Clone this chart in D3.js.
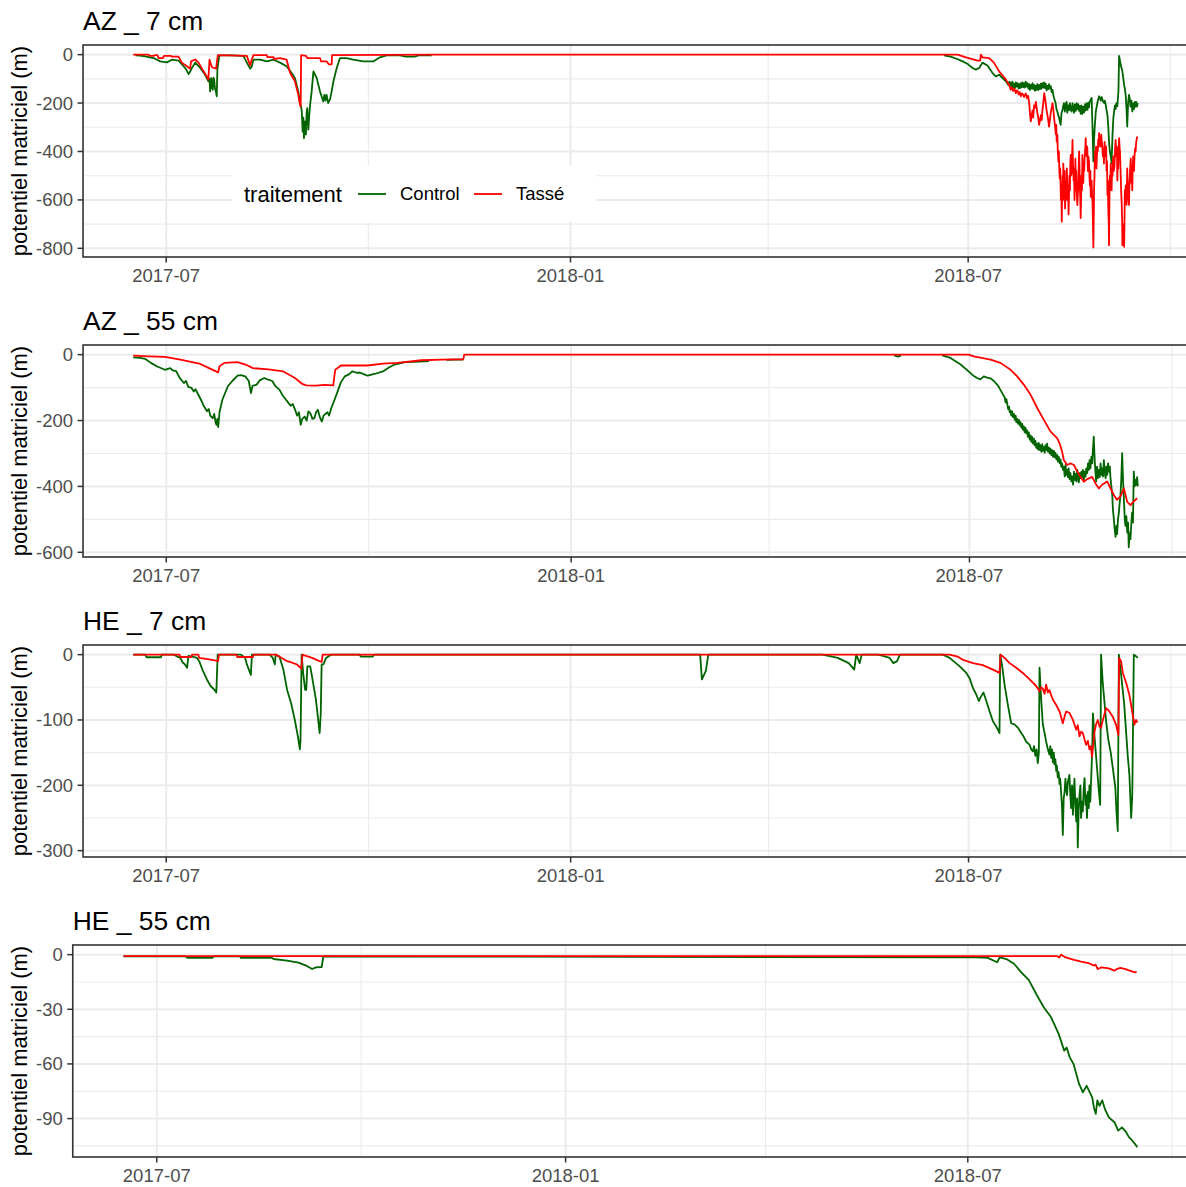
<!DOCTYPE html>
<html>
<head>
<meta charset="utf-8">
<script src="https://cdn.jsdelivr.net/npm/d3@7"></script>
<style>
  body { margin: 0; background: #fff; }
  svg { display: block; font-family: "Liberation Sans", Arial, sans-serif; }
</style>
</head>
<body>
<svg width="1186" height="1187"></svg>
<script>
const svg = d3.select('svg');

// days are counted from the first reading, 2017-06-16
const start = Date.UTC(2017, 5, 16);
const toDate = day => new Date(start + day * 864e5);

const treatments = ['Control', 'Tassé'];
const lineColors = ['#006400', '#ff0000'];
const panelTitles = ['AZ _ 7 cm', 'AZ _ 55 cm', 'HE _ 7 cm', 'HE _ 55 cm'];
const xTickDates = ['2017-07-01', '2018-01-01', '2018-07-01'];
const xTickLabels = ['2017-07', '2018-01', '2018-07'];
const xMinorDates = ['2017-10-01', '2018-04-01', '2018-10-01'];
const yTicksAzShallow = [0, -200, -400, -600, -800];
const yTicksAzDeep = [0, -200, -400, -600];
const yTicksHeShallow = [0, -100, -200, -300];
const yTicksHeDeep = [0, -30, -60, -90];

// [day, potentiel (m)], null = no reading
const azShallowControl = [
  [1,-3],[3.2,-4],[6,-8],[9.2,-14],[12.3,-28],[15.3,-32],[17.6,-21],[20.6,-25],[22.9,-48],[24,-60],[25.2,-80],[25.9,-70],
  [26.7,-55],[28.2,-33],[30.5,-55],[32.7,-83],[34.2,-110],[34.7,-100],[35,-152],[35.3,-120],[35.5,-97],[35.8,-135],[36.2,-145],
  [36.5,-95],[36.8,-100],[37.2,-140],[37.6,-152],[38,-172],[38.3,-60],[39.1,-7],[39.5,-3],[45,-3],[50.1,-5],[51.7,-33],
  [53.2,-58],[53.9,-50],[54.7,-21],[57.7,-21],[60.8,-28],[63.8,-21],[66.8,-33],[69.8,-48],[72.1,-76],[73.6,-97],[75.1,-152],
  [75.9,-200],[76.4,-215],[76.7,-235],[77.1,-318],[77.4,-260],[77.7,-345],[78,-300],[78.2,-276],[78.6,-330],[78.9,-240],
  [79.2,-221],[79.7,-310],[80.1,-250],[80.5,-207],[81.2,-152],[82,-69],[83.5,-97],[85,-152],[86,-180],[86.5,-193],[87,-165],
  [87.5,-190],[88,-166],[88.7,-200],[89.5,-186],[90.3,-152],[91.1,-110],[92.6,-55],[94.1,-14],[97.1,-14],[100.1,-21],
  [104.7,-28],[109.2,-28],[112.3,-11],[115.3,-3],[121.4,-3],[124,-8],[128,-8],[130,-3],[135.8,-3],[136,null],
  [369,-3],[372,-8],[375,-18],[377.5,-28],[380,-40],[382,-55],[383.5,-62],[385,-55],[386.5,-33],[388.8,-45],[391.1,-76],
  [392.6,-90],[394.1,-83],[395.6,-97],[397.2,-110],[398.3,-125],[398.7,-112],[399.1,-130],[399.5,-115],[399.9,-135],
  [400.2,-112],[400.6,-136],[400.9,-120],[401.3,-138],[401.7,-115],[402.1,-132],[402.5,-118],[402.9,-140],[403.2,-122],
  [403.6,-138],[403.9,-118],[404.3,-135],[404.7,-115],[405.1,-134],[405.4,-118],[405.8,-136],[406.2,-112],[406.6,-132],
  [407,-118],[407.4,-140],[407.8,-122],[408.1,-146],[408.5,-125],[408.9,-140],[409.3,-118],[409.6,-142],[410,-125],
  [410.4,-150],[410.8,-128],[411.1,-145],[411.5,-122],[411.9,-146],[412.3,-125],[412.7,-142],[413.1,-120],[413.4,-140],
  [413.8,-118],[414.2,-136],[414.6,-115],[415,-138],[415.3,-120],[415.7,-148],[416.1,-128],[416.5,-142],[416.8,-122],
  [417.2,-140],[417.6,-130],[418,-155],[418.4,-145],[418.7,-165],[419.1,-179],[419.8,-200],[420.2,-225],[420.6,-235],
  [421,-250],[421.4,-260],[421.7,-275],[422.1,-290],[422.5,-240],[422.9,-230],[423.2,-215],[423.6,-200],[424,-235],
  [424.4,-205],[424.8,-195],[425.1,-240],[425.5,-210],[425.9,-230],[426.3,-200],[426.7,-225],[427.1,-235],[427.5,-200],
  [427.9,-222],[428.2,-240],[428.6,-205],[429,-232],[429.4,-200],[429.7,-225],[430.1,-205],[430.5,-232],[430.9,-212],
  [431.2,-245],[431.6,-210],[432,-245],[432.4,-215],[432.8,-238],[433.2,-205],[433.5,-230],[433.9,-200],[434.3,-228],
  [434.7,-198],[435,-218],[435.3,-195],[435.6,-190],[436.2,-179],[436.6,-300],[437,-441],[437.3,-350],[437.6,-300],
  [438.1,-235],[438.8,-200],[439.2,-185],[439.6,-172],[440,-180],[440.4,-190],[440.8,-175],[441.1,-186],[441.5,-195],
  [441.9,-200],[442.2,-190],[442.6,-207],[443,-230],[443.4,-250],[443.8,-300],[444.1,-359],[444.5,-400],[444.9,-420],
  [445.3,-448],[445.7,-330],[446.1,-260],[446.4,-235],[446.8,-210],[447.1,-225],[447.5,-200],[447.9,-214],[448.4,-150],
  [448.7,-5],[449,-20],[449.4,-40],[449.8,-55],[450.2,-69],[450.6,-95],[450.9,-120],[451.3,-140],[451.7,-166],
  [452.1,-230],[452.4,-297],[452.8,-200],[453.2,-166],[453.6,-185],[453.9,-215],[454.3,-190],[454.7,-235],[455.1,-200],
  [455.5,-225],[455.9,-195],[456.2,-215],[456.5,-195],[456.8,-215],[457.2,-200]
];
const azShallowTasse = [
  [0,0],[7,0],[7.5,-5],[9.5,-5],[10,-2],[11,-2],[11.5,-14],[13.5,-14],[14,-5],[17,-5],[17.5,-8],[20.6,-8],[22.1,-33],
  [24.4,-48],[25.9,-58],[26.3,-28],[28.2,-20],[29.7,-33],[32,-69],[33.5,-90],[34.2,-103],[34.7,-21],[35.8,-52],[37.7,-58],
  [38.5,-2],[51.7,-5],[53.2,-45],[53.9,-20],[54.7,-2],[60.8,-2],[61,-10],[63.8,-10],[64,-18],[66.8,-14],[69.8,-21],
  [71.4,-76],[73.6,-110],[75.1,-166],[75.9,-207],[76.2,-215],[76.4,-2],[78.6,-5],[79.2,-14],[85,-14],[85.5,-28],[88,-28],
  [89,-40],[90.3,-40],[90.5,-2],[136,0],[375.2,0],[379,-11],[384.3,-25],[385.5,-25],[385.8,0],[386.5,-11],[389.6,-14],
  [391.8,-34],[394.1,-69],[397.2,-103],[397.8,-115],[398.5,-120],[399,-135],[399.4,-145],[399.8,-135],[400.5,-150],
  [401,-140],[401.7,-159],[402.1,-148],[402.5,-150],[403,-165],[403.5,-155],[404,-172],[404.5,-160],[405,-165],
  [405.5,-175],[406.2,-160],[406.8,-180],[407.3,-170],[407.8,-200],[408.1,-240],[408.5,-276],[408.9,-250],[409.3,-230],
  [409.6,-260],[410,-210],[410.4,-220],[410.8,-195],[411.1,-215],[411.5,-240],[411.9,-260],[412.3,-290],[412.7,-270],
  [413.1,-250],[413.5,-270],[413.8,-230],[414.2,-200],[414.6,-159],[415,-180],[415.3,-200],[415.7,-230],[416.1,-250],
  [416.5,-275],[416.8,-297],[417.2,-270],[417.6,-240],[418,-220],[418.4,-200],[418.8,-230],[419.1,-260],[419.6,-300],
  [419.9,-330],[420.1,-290],[420.3,-359],[420.6,-330],[420.8,-400],[421.1,-442],[421.3,-400],[421.5,-480],[421.7,-511],
  [421.9,-470],[422.2,-600],[422.4,-540],[422.6,-690],[422.8,-560],[423,-500],[423.2,-600],[423.3,-450],[423.5,-520],
  [423.7,-560],[423.9,-480],[424.1,-635],[424.3,-560],[424.5,-520],[424.7,-600],[424.9,-470],[425.1,-530],[425.3,-600],
  [425.5,-540],[425.7,-660],[425.9,-580],[426.1,-500],[426.3,-560],[426.5,-450],[426.7,-414],[426.9,-500],[427.1,-480],
  [427.3,-420],[427.5,-352],[427.7,-450],[428,-520],[428.2,-470],[428.4,-600],[428.6,-540],[428.8,-430],[429,-520],
  [429.2,-480],[429.4,-560],[429.7,-621],[429.9,-580],[430.1,-550],[430.3,-470],[430.5,-400],[430.7,-480],[430.9,-560],
  [431.1,-620],[431.2,-675],[431.4,-600],[431.6,-500],[431.8,-560],[432,-414],[432.2,-480],[432.4,-530],[432.6,-460],
  [432.8,-480],[433,-430],[433.2,-400],[433.4,-370],[433.5,-345],[433.7,-400],[434,-420],[434.2,-380],[434.5,-480],
  [434.7,-420],[435,-440],[435.2,-500],[435.4,-540],[435.6,-480],[435.8,-587],[436,-540],[436.2,-520],[436.4,-580],
  [436.6,-610],[436.8,-700],[437,-796],[437.2,-650],[437.3,-560],[437.5,-500],[437.6,-450],[437.8,-400],[438,-420],
  [438.2,-380],[438.4,-470],[438.6,-420],[438.8,-380],[439,-400],[439.2,-350],[439.4,-380],[439.6,-324],[439.9,-360],
  [440.1,-345],[440.3,-380],[440.6,-330],[440.8,-360],[441.1,-380],[441.3,-420],[441.6,-400],[441.8,-450],[442.1,-360],
  [442.3,-400],[442.6,-420],[442.8,-380],[443,-480],[443.2,-440],[443.4,-580],[443.6,-520],[443.8,-650],[444,-700],
  [444.1,-787],[444.3,-600],[444.5,-500],[444.7,-560],[444.9,-450],[445.1,-520],[445.3,-560],[445.5,-470],[445.7,-500],
  [445.9,-440],[446.1,-420],[446.3,-480],[446.6,-460],[446.8,-400],[447.1,-352],[447.3,-380],[447.5,-420],[447.7,-380],
  [447.9,-520],[448.1,-440],[448.3,-470],[448.5,-400],[448.7,-345],[448.9,-380],[449.1,-400],[449.3,-460],[449.5,-520],
  [449.7,-580],[449.9,-620],[450.1,-700],[450.2,-787],[450.4,-760],[450.6,-700],[450.8,-780],[451,-794],[451.2,-650],
  [451.3,-560],[451.5,-600],[451.7,-540],[451.9,-580],[452.1,-620],[452.3,-520],[452.4,-470],[452.6,-530],[452.8,-560],
  [453,-600],[453.2,-621],[453.4,-540],[453.6,-500],[453.8,-460],[454,-430],[454.2,-480],[454.3,-530],[454.5,-500],
  [454.7,-560],[454.9,-470],[455.1,-420],[455.3,-460],[455.5,-480],[455.7,-420],[456,-386],[456.2,-400],[456.5,-360],
  [456.7,-350],[457,-338]
];

const azDeepControl = [
  [0,-8],[3,-10],[5.5,-13],[8,-25],[10.9,-36],[14.4,-46],[16.8,-41],[18,-48],[19.5,-50],[21,-70],[23,-86],[24,-80],
  [25,-98],[26.5,-101],[27.5,-112],[28.3,-105],[30,-127],[31,-140],[32,-155],[33.5,-172],[34.3,-165],[35,-185],[36.1,-193],
  [36.8,-180],[37.4,-205],[37.8,-213],[38.2,-195],[38.6,-220],[39.2,-175],[40.5,-137],[43,-96],[45,-80],[47.4,-64],
  [49,-62],[50.9,-66],[52.5,-80],[53.5,-117],[54.2,-95],[56.1,-91],[57.5,-78],[59.5,-71],[61,-75],[63.2,-80],[64.5,-95],
  [66.5,-107],[68,-125],[70,-142],[71.5,-155],[72.5,-150],[73.5,-167],[74.5,-185],[75.3,-175],[76.1,-213],[76.8,-195],
  [77.9,-188],[78.8,-200],[79.6,-172],[80.5,-178],[81.4,-195],[82.3,-193],[83.1,-175],[83.9,-167],[84.8,-190],
  [85.7,-203],[86.5,-185],[87.3,-180],[88.2,-175],[89,-185],[90,-162],[91.3,-140],[92.6,-117],[94.3,-85],[96.1,-66],
  [98,-60],[99.5,-51],[101.5,-55],[103.2,-55],[105,-60],[106.5,-64],[110,-58],[113.5,-51],[116,-40],[118.7,-30],
  [123.6,-23],[128,-22],[134.4,-20],[134.6,null],[142.3,-16],[146,-15],[150,-15],[150.2,null],
  [345.8,-2],[347.5,-6],[349,-2],[349.2,null],
  [367.6,-2],[371.4,-10],[376,-30],[380.5,-56],[382,-65],[383.5,-71],[385,-75],[386.5,-66],[388,-70],[389.6,-72],
  [391.1,-80],[392.6,-91],[393.5,-100],[394.9,-117],[396,-130],[396.4,-145],[396.8,-135],[397.2,-150],[397.6,-165],
  [398,-158],[398.3,-175],[398.7,-170],[399,-185],[399.4,-172],[399.8,-190],[400.2,-180],[400.6,-198],[401,-185],
  [401.3,-205],[401.7,-195],[402.1,-210],[402.5,-198],[402.9,-215],[403.2,-205],[403.6,-222],[404,-210],[404.3,-228],
  [404.7,-218],[405.1,-236],[405.5,-222],[405.9,-240],[406.2,-230],[406.6,-250],[407,-236],[407.4,-258],[407.8,-245],
  [408.1,-265],[408.5,-250],[408.9,-270],[409.3,-255],[409.6,-275],[410,-262],[410.4,-283],[410.8,-270],[411.1,-288],
  [411.5,-268],[411.9,-290],[412.3,-275],[412.7,-295],[413.1,-272],[413.4,-292],[413.8,-280],[414.2,-298],[414.6,-275],
  [415,-290],[415.3,-270],[415.7,-295],[416.1,-282],[416.5,-300],[416.8,-285],[417.2,-305],[417.6,-290],[418,-310],
  [418.4,-292],[418.7,-312],[419.1,-298],[419.5,-318],[419.9,-305],[420.2,-325],[420.6,-310],[421,-330],[421.4,-318],
  [421.7,-340],[422.1,-330],[422.5,-350],[422.9,-340],[423.3,-370],[423.7,-335],[424,-365],[424.4,-350],[424.8,-372],
  [425.1,-345],[425.5,-378],[425.9,-360],[426.3,-385],[426.7,-370],[427.1,-395],[427.5,-355],[427.9,-380],[428.2,-362],
  [428.6,-385],[429,-350],[429.4,-378],[429.7,-388],[430.1,-360],[430.5,-375],[430.9,-355],[431.2,-372],[431.6,-350],
  [432,-380],[432.4,-355],[432.8,-370],[433.1,-345],[433.5,-360],[433.9,-330],[434.3,-350],[434.6,-320],[435,-345],
  [435.4,-310],[435.8,-330],[436.1,-290],[436.5,-249],[436.8,-300],[437,-330],[437.3,-360],[437.6,-385],[438,-340],
  [438.4,-375],[438.8,-350],[439.2,-372],[439.6,-330],[440,-365],[440.3,-345],[440.7,-370],[441.1,-320],[441.5,-360],
  [441.9,-375],[442.2,-340],[442.6,-365],[443,-330],[443.4,-355],[443.8,-340],[444.1,-375],[444.5,-400],[444.9,-426],
  [445.2,-470],[445.6,-497],[446,-530],[446.4,-553],[446.8,-520],[447.1,-545],[447.5,-500],[447.9,-480],[448.2,-455],
  [448.6,-430],[449,-380],[449.4,-299],[449.8,-380],[450.2,-440],[450.6,-500],[450.9,-520],[451.3,-490],[451.7,-540],
  [452.1,-510],[452.4,-585],[452.8,-540],[453.2,-560],[453.5,-520],[453.9,-480],[454.3,-510],[454.7,-355],[455.1,-400],
  [455.5,-380],[455.9,-395],[456.2,-372],[456.5,-400]
];
const azDeepTasse = [
  [0,-3],[7,-5],[14.4,-7],[21.4,-15],[30,-27],[34.4,-41],[38.6,-54],[39.2,-35],[41.4,-25],[47.3,-23],[51,-30],
  [54.4,-41],[61.4,-45],[68.2,-51],[73.5,-71],[76.8,-89],[78.6,-93],[83,-94],[87,-92],[90.9,-93],[91.5,-60],[91.8,-46],
  [94.4,-33],[106.4,-33],[113.5,-27],[120,-25],[130.9,-17],[140,-15],[150,-14],[150.4,0],[379.7,0],[382,-5],
  [389.6,-15],[394.1,-25],[398.7,-46],[401.7,-66],[404.7,-91],[407.8,-122],[410.8,-162],[413.8,-198],[416.8,-233],
  [419.9,-254],[421,-270],[422.1,-294],[422.9,-320],[424.4,-335],[425.9,-330],[427.5,-335],[429,-355],[430.5,-371],
  [432,-386],[433.5,-378],[435.8,-371],[437.3,-391],[438.8,-406],[440.3,-395],[442.6,-385],[444.1,-406],[445.6,-426],
  [447.1,-441],[448.6,-430],[450.2,-406],[451.7,-447],[453.2,-457],[454.7,-445],[456.2,-436]
];

const heShallowControl = [
  [0,0],[5.5,0],[6,-4],[12.6,-4],[13,0],[18.5,0],[20,-3],[21.4,-5],[22.5,-12],[23.5,-15],[24.5,-20],[25.1,-2],[27,-3],
  [29,-5],[30,-10],[31.7,-25],[33.5,-38],[35.2,-48],[37,-54],[37.8,-58],[38.4,0],[49,0],[50.9,-5],[51.7,-15],[53.5,-31],
  [54,0],[62,0],[63.5,-5],[64.4,-15],[64.8,0],[66.5,-3],[68.3,-23],[70,-54],[71.8,-74],[73.5,-100],[74.9,-125],
  [75.8,-145],[76.1,-130],[76.6,0],[77.3,-28],[78.2,-54],[78.7,-54],[79.2,-18],[80.5,-18],[81.3,-33],[83.1,-69],
  [84.8,-120],[85.3,-90],[85.7,-15],[86.5,-15],[87.7,-5],[89.1,-2],[90,0],[103,0],[103.5,-3],[109,-3],[109.5,0],
  [257.9,0],[258.7,-38],[260.5,-25],[261.6,0],[313.6,0],[320.5,-5],[325.5,-13],[328,-23],[328.9,0],[330.5,-13],[331.4,0],
  [339,0],[344.1,-5],[345.8,-13],[347.5,-10],[348.8,0],
  [368.4,0],[371.4,-5],[376,-18],[379,-28],[380.5,-36],[382,-51],[383.5,-61],[384.7,-71],[385.5,-65],[386.8,-58],
  [388.1,-71],[389.6,-87],[391.1,-102],[392.6,-110],[393.4,-115],[394.1,-120],[394.4,0],[395.2,-15],[396.4,-46],
  [397.9,-77],[399.4,-105],[401,-107],[402.5,-112],[404,-120],[405,-125],[406.2,-133],[407.8,-138],[408.5,-145],
  [409.3,-148],[409.8,-140],[410.4,-155],[411,-145],[411.5,-166],[412,-150],[412.3,-20],[412.9,-60],[413.8,-107],
  [414.6,-120],[415.3,-133],[416.1,-145],[416.8,-153],[417.2,-140],[417.6,-158],[418,-145],[418.4,-165],[418.8,-150],
  [419.1,-168],[419.5,-160],[419.9,-178],[420.2,-170],[420.6,-188],[421,-180],[421.4,-198],[421.7,-190],[422.1,-210],
  [422.5,-230],[422.9,-276],[423.3,-220],[423.7,-210],[424.1,-190],[424.4,-205],[424.8,-215],[425.2,-195],[425.9,-184],
  [426.3,-215],[426.7,-235],[427.1,-200],[427.5,-245],[427.9,-210],[428.2,-190],[428.6,-230],[429,-255],[429.4,-220],
  [429.7,-295],[430.1,-240],[430.5,-215],[430.9,-200],[431.2,-250],[431.6,-225],[432,-240],[432.4,-205],[432.8,-189],
  [433.2,-230],[433.5,-215],[433.9,-250],[434.3,-210],[434.7,-235],[435,-200],[435.4,-225],[435.8,-190],[436.2,-153],
  [436.6,-90],[437.2,-120],[437.9,-150],[438.5,-175],[439.3,-209],[439.9,-230],[440.3,0],[441,-40],[442.6,-102],
  [443.6,-130],[444.7,-150],[445.7,-175],[446.8,-204],[447.3,-240],[447.9,-270],[448.4,0],[449.4,-30],[450.8,-75],
  [452.4,-153],[453.2,-185],[454,-250],[454.5,-215],[455.2,0],[456,-2],[457,-5]
];
const heShallowTasse = [
  [0,0],[21,0],[21.4,-3.6],[26.4,-3.6],[26.8,0],[29.6,0],[30,-5],[33,-6.6],[36,-8],[38.6,-10],[39,0],[47,0],[47.3,-3.6],
  [54.4,-3.6],[54.8,0],[64.8,0],[67,-4],[70,-10],[72,-12],[74.4,-15],[76.1,-20],[76.5,-22],[77,0],[78.6,-2],[81.4,-5],
  [83.9,-8.7],[85.7,-11],[86.2,0],[371.4,0],[375,-3],[377.5,-8],[382,-13],[386.5,-16],[391.1,-23],[394.1,-28],[394.6,0],
  [396.4,-5],[398.7,-13],[401.7,-20],[404.7,-28],[407.8,-38],[410.8,-48],[412.3,-56],[413,-50],[413.8,-52],[414.6,-60],
  [415.3,-46],[416.1,-58],[416.8,-54],[417.6,-62],[418.4,-69],[419.9,-77],[421.4,-87],[422.9,-105],[423.6,-96],
  [424.4,-87],[425.9,-89],[427.5,-100],[429,-115],[429.7,-108],[430.5,-125],[431.2,-118],[432,-120],[432.8,-130],
  [433.5,-138],[434.3,-132],[435,-145],[435.6,-140],[436.2,-156],[436.8,-135],[437.3,-118],[438,-107],[438.8,-100],
  [439.6,-110],[440.3,-112],[441.1,-100],[442.6,-82],[444.1,-87],[445.6,-95],[447.1,-107],[448.2,-123],[448.5,-5],
  [449.4,-10],[450.2,-28],[451.7,-43],[453.2,-62],[454.7,-92],[455.5,-107],[456.2,-100],[456.8,-104]
];

const heDeepControl = [
  [0,-1],[28,-1],[28.8,-1.8],[40,-1.8],[40.5,-1],[52.5,-1],[52.9,-1.8],[66.9,-1.8],[67.6,-2.4],[73.6,-3.3],[78.8,-4.4],
  [82.2,-6],[84.9,-7.9],[86.6,-7],[89.2,-6.8],[90,-1],[384,-1.5],[389,-1.8],[393.2,-4.2],[394.4,-1.5],[397.4,-2.4],
  [400.8,-5],[404.1,-9.7],[407.5,-14],[410.8,-21.6],[414.2,-28.9],[417.5,-34.4],[420.9,-43.5],[423.4,-52.7],
  [424.5,-51],[425.9,-56.4],[427.6,-60],[430.1,-71],[431.8,-75.6],[433.5,-72],[436,-78.3],[436.8,-84],[437.6,-87.4],
  [438.3,-80],[439.3,-83],[440.5,-80],[441.8,-85],[443.5,-89.3],[446,-92],[447.7,-96.6],[449.4,-94.8],[451,-97],
  [452.6,-100.3],[454,-102],[455.3,-104],[456.3,-105.8]
];
const heDeepTasse = [
  [0,-0.8],[420.1,-0.8],[421.2,-1.6],[422,0],[423.5,-1.2],[425.5,-2],[427.9,-2.9],[431,-3.8],[434.3,-4.6],[436.8,-6],
  [437.5,-5.5],[438.5,-7.9],[440.2,-7],[443.5,-7.5],[446,-8.8],[447,-8],[448.6,-7.3],[451,-8],[452.8,-8.8],[455.3,-9.7],
  [456,-9.5]
];

const panels = [
  { title: panelTitles[0], ticks: yTicksAzShallow, series: [azShallowControl, azShallowTasse] },
  { title: panelTitles[1], ticks: yTicksAzDeep, series: [azDeepControl, azDeepTasse] },
  { title: panelTitles[2], ticks: yTicksHeShallow, series: [heShallowControl, heShallowTasse] },
  { title: panelTitles[3], ticks: yTicksHeDeep, series: [heDeepControl, heDeepTasse] }
];

const panelTop = 45;
const panelHeight = 212;
const panelStep = 300;
const panelRight = 1188;
const yTitleX = 27;
const tickFont = 18.5;
const gridColor = '#ebebeb';
const darkGrey = '#333333';

panels.forEach((p, i) => {
  const top = panelTop + i * panelStep;
  const bottom = top + panelHeight;
  const g = svg.append('g');

  // y tick labels first, to know how wide the left margin is
  const yLabG = g.append('g');
  const yLabels = yLabG.selectAll('text').data(p.ticks).join('text')
    .attr('font-size', tickFont)
    .attr('fill', '#4d4d4d')
    .attr('text-anchor', 'end')
    .attr('dy', '0.35em')
    .text(d => d);
  const maxW = d3.max(yLabels.nodes(), n => n.getComputedTextLength());
  const left = yTitleX + 9 + maxW + 10;

  // scales
  const allPts = p.series.flat().filter(q => q[1] !== null);
  const [dMin, dMax] = d3.extent(allPts, q => q[0]);
  const dPad = (dMax - dMin) * 0.05;
  const x = d3.scaleUtc()
    .domain([toDate(dMin - dPad), toDate(dMax + dPad)])
    .range([left, panelRight]);
  const [vMin, vMax] = d3.extent(allPts, q => q[1]);
  const vPad = (vMax - vMin) * 0.05;
  const y = d3.scaleLinear()
    .domain([vMin - vPad, vMax + vPad])
    .range([bottom, top]);

  const step = p.ticks[0] - p.ticks[1];
  const yMinor = [p.ticks[0] + step / 2].concat(p.ticks.map(t => t - step / 2))
    .filter(v => v > y.domain()[0] && v < y.domain()[1]);
  const xMajor = xTickDates.map(s => new Date(s + 'T00:00:00Z'));
  const xMinor = xMinorDates.map(s => new Date(s + 'T00:00:00Z'));

  const grid = g.append('g');
  grid.selectAll('.ymin').data(yMinor).join('line')
    .attr('x1', left).attr('x2', panelRight)
    .attr('y1', d => y(d)).attr('y2', d => y(d))
    .attr('stroke', gridColor).attr('stroke-width', 1.1);
  grid.selectAll('.xmin').data(xMinor).join('line')
    .attr('y1', top).attr('y2', bottom)
    .attr('x1', d => x(d)).attr('x2', d => x(d))
    .attr('stroke', gridColor).attr('stroke-width', 1.1);
  grid.selectAll('.ymaj').data(p.ticks).join('line')
    .attr('x1', left).attr('x2', panelRight)
    .attr('y1', d => y(d)).attr('y2', d => y(d))
    .attr('stroke', gridColor).attr('stroke-width', 2);
  grid.selectAll('.xmaj').data(xMajor).join('line')
    .attr('y1', top).attr('y2', bottom)
    .attr('x1', d => x(d)).attr('x2', d => x(d))
    .attr('stroke', gridColor).attr('stroke-width', 2);

  // legend sits inside the first panel, over the grid
  if (i === 0) {
    const lg = g.append('g');
    lg.append('rect').attr('x', 232).attr('y', 166).attr('width', 364).attr('height', 56).attr('fill', '#fff');
    lg.append('text').attr('x', 244).attr('y', 194).attr('dy', '0.35em')
      .attr('font-size', 22).attr('fill', '#000').text('traitement');
    const keyX = [358, 474];
    treatments.forEach((t, k) => {
      lg.append('line').attr('x1', keyX[k]).attr('x2', keyX[k] + 28).attr('y1', 194).attr('y2', 194)
        .attr('stroke', lineColors[k]).attr('stroke-width', 1.8);
      lg.append('text').attr('x', keyX[k] + 42).attr('y', 194).attr('dy', '0.35em')
        .attr('font-size', tickFont).attr('fill', '#000').text(t);
    });
  }

  const line = d3.line()
    .defined(q => q[1] !== null)
    .x(q => x(toDate(q[0])))
    .y(q => y(q[1]));

  g.append('g').selectAll('path').data(p.series).join('path')
    .attr('d', line)
    .attr('fill', 'none')
    .attr('stroke', (d, k) => lineColors[k])
    .attr('stroke-width', 1.8)
    .attr('stroke-linejoin', 'round');

  // panel border
  g.append('rect')
    .attr('x', left).attr('y', top)
    .attr('width', panelRight - left).attr('height', panelHeight)
    .attr('fill', 'none').attr('stroke', darkGrey).attr('stroke-width', 1.6);

  // y axis ticks + labels
  g.append('g').selectAll('line').data(p.ticks).join('line')
    .attr('x1', left - 5.5).attr('x2', left)
    .attr('y1', d => y(d)).attr('y2', d => y(d))
    .attr('stroke', darkGrey).attr('stroke-width', 1.5);
  yLabels.attr('x', left - 10).attr('y', d => y(d));
  yLabG.raise();

  // x axis ticks + labels
  g.append('g').selectAll('line').data(xMajor).join('line')
    .attr('x1', d => x(d)).attr('x2', d => x(d))
    .attr('y1', bottom).attr('y2', bottom + 5.5)
    .attr('stroke', darkGrey).attr('stroke-width', 1.5);
  g.append('g').selectAll('text').data(xMajor).join('text')
    .attr('x', d => x(d)).attr('y', bottom + 25)
    .attr('font-size', tickFont).attr('fill', '#4d4d4d')
    .attr('text-anchor', 'middle')
    .text((d, k) => xTickLabels[k]);

  // titles
  g.append('text')
    .attr('transform', `translate(${yTitleX},${(top + bottom) / 2}) rotate(-90)`)
    .attr('text-anchor', 'middle')
    .attr('font-size', 22).attr('fill', '#000')
    .text('potentiel matriciel (m)');
  g.append('text')
    .attr('x', left).attr('y', top - 15)
    .attr('font-size', 26.4).attr('fill', '#000')
    .text(p.title);
});
</script>
</body>
</html>
